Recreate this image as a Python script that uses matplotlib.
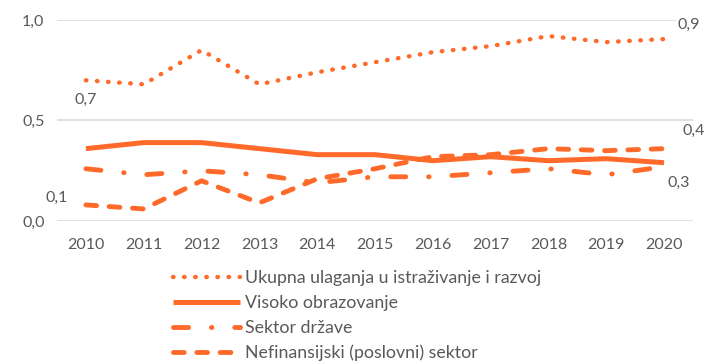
import matplotlib
matplotlib.use("Agg")
import matplotlib.pyplot as plt

plt.rcParams['font.family'] = ['Lato', 'DejaVu Sans']

years = [2010, 2011, 2012, 2013, 2014, 2015, 2016, 2017, 2018, 2019, 2020]

ukupna = [0.70, 0.68, 0.85, 0.68, 0.74, 0.79, 0.84, 0.87, 0.92, 0.89, 0.905]
visoko = [0.36, 0.39, 0.39, 0.36, 0.33, 0.33, 0.30, 0.32, 0.30, 0.31, 0.29]
drzava = [0.26, 0.23, 0.25, 0.23, 0.19, 0.22, 0.22, 0.24, 0.26, 0.23, 0.27]
nefin = [0.08, 0.06, 0.20, 0.09, 0.21, 0.26, 0.32, 0.33, 0.36, 0.35, 0.36]

names = ["Ukupna ulaganja u istraživanje i razvoj",
         "Visoko obrazovanje",
         "Sektor države",
         "Nefinansijski (poslovni) sektor"]

yticks = [0.0, 0.5, 1.0]
ytick_labels = ["0,0", "0,5", "1,0"]

orange = "#FF6A2A"
grey = "#595959"

fig = plt.figure(figsize=(7.09, 3.63), dpi=100)
ax = fig.add_axes([0.0804, 0.3912, 0.897, 0.5537])

x = list(range(len(years)))
l1, = ax.plot(x, ukupna, color=orange, lw=3.2, dash_capstyle='round',
              linestyle=(0, (0.1, 2.4)), label=names[0])
l2, = ax.plot(x, visoko, color=orange, lw=3.6, solid_capstyle='butt', label=names[1])
l3, = ax.plot(x, drzava, color=orange, lw=3.5, dash_capstyle='round',
              linestyle=(0, (3.1, 4.7, 0.1, 4.7)), label=names[2])
l4, = ax.plot(x, nefin, color=orange, lw=3.5, dash_capstyle='round',
              linestyle=(0, (2.2, 2.6)), label=names[3])

ax.set_xlim(-0.5, len(years) - 0.5)
ax.set_ylim(0, 1)
ax.set_xticks(x)
ax.set_xticklabels([str(y) for y in years])
ax.set_yticks(yticks)
ax.set_yticklabels(ytick_labels)
ax.tick_params(length=0, labelsize=11.5, labelcolor=grey)
ax.tick_params(axis='y', pad=9)
ax.tick_params(axis='x', pad=12.5)
ax.grid(axis='y', color='#D9D9D9', lw=1.2)
ax.set_axisbelow(True)
for s in ax.spines.values():
    s.set_visible(False)


def fmt(v):
    return f"{v:.1f}".replace(".", ",")


# value labels
labels = [
    (0, ukupna[0], (0, -20)),
    (0, nefin[0], (-29, 7)),
    (10, ukupna[10], (25, 14)),
    (10, nefin[10], (30, 18)),
    (10, drzava[10], (15, -16)),
]
for xi, v, off in labels:
    ax.annotate(fmt(v), (xi, v), xytext=off, textcoords='offset pixels',
                ha='center', va='center', fontsize=11.5, color=grey,
                bbox=dict(fc='white', ec='none', pad=1), annotation_clip=False)

fig.legend(handles=[l1, l2, l3, l4], loc='upper left',
           bbox_to_anchor=(0.244, 0.256), frameon=False, fontsize=12.8,
           labelcolor=grey, handlelength=3.75, handletextpad=0.3,
           labelspacing=0.5, borderpad=0, borderaxespad=0)

fig.savefig("out.png", dpi=100)
